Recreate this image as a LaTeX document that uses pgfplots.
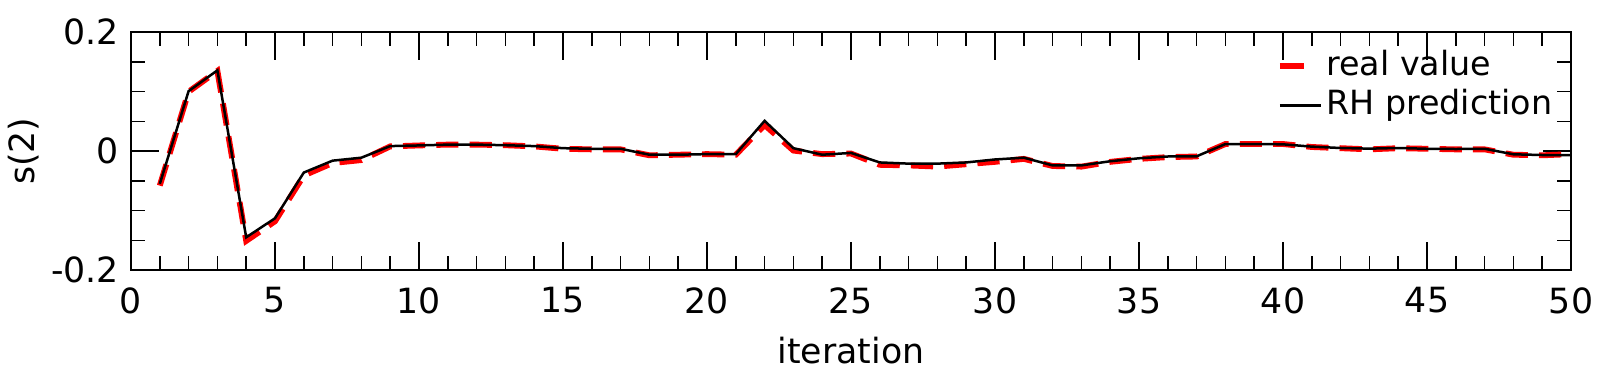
\documentclass[border=0pt]{standalone}
\usepackage{pgfplots}
\pgfplotsset{compat=1.18}
\usetikzlibrary{calc}
\usepackage{fontspec}
\setmainfont{DejaVu Sans}
\pgfplotstableread{
x real pred
1 -0.058 -0.055
2 0.100 0.101
3 0.135 0.136
4 -0.151 -0.145
5 -0.118 -0.113
6 -0.041 -0.036
7 -0.020 -0.016
8 -0.015 -0.011
9 0.008 0.0085
10 0.0096 0.0096
11 0.011 0.011
12 0.011 0.011
13 0.010 0.010
14 0.008 0.0085
15 0.004 0.005
16 0.003 0.004
17 0.003 0.004
18 -0.007 -0.006
19 -0.006 -0.006
20 -0.005 -0.005
21 -0.006 -0.005
22 0.044 0.051
23 0.001 0.005
24 -0.005 -0.006
25 -0.004 -0.003
26 -0.023 -0.019
27 -0.024 -0.021
28 -0.026 -0.021
29 -0.022 -0.019
30 -0.018 -0.014
31 -0.013 -0.011
32 -0.025 -0.024
33 -0.026 -0.024
34 -0.018 -0.017
35 -0.013 -0.012
36 -0.010 -0.009
37 -0.009 -0.0087
38 0.012 0.012
39 0.012 0.012
40 0.012 0.0115
41 0.007 0.0076
42 0.005 0.0053
43 0.003 0.0042
44 0.005 0.0053
45 0.004 0.004
46 0.003 0.0036
47 0.003 0.004
48 -0.006 -0.0053
49 -0.007 -0.0065
50 -0.005 -0.0065
}\datatable
\begin{document}
\begin{tikzpicture}
\begin{axis}[
  name=ax,
  scale only axis,
  width=518.4pt, height=85.57pt,
  xmin=0, xmax=50, ymin=-0.2, ymax=0.2,
  xtick={0,5,...,50},
  minor x tick num=4,
  ytick={-0.2,0,0.2},
  yticklabels={-0.2,0,0.2},
  minor y tick num=3,
  tick align=inside,
  major tick length=10pt,
  minor tick length=5pt,
  tick style={black, line width=0.55pt},
  axis line style={black, line width=0.6pt},
  font=\fontsize{12.5}{15}\selectfont,
  /pgf/number format/assume math mode=true,
  xticklabel style={yshift=-2.8pt},
  yticklabel style={xshift=-0.8pt},
  xlabel={iteration},
  ylabel={s(2)},
  every axis x label/.style={at={(axis description cs:0.5,0)}, anchor=base, yshift=-33.6pt},
  every axis y label/.style={at={(axis description cs:0,0.5)}, xshift=-38.8pt, rotate=90, anchor=center},
  legend cell align=left,
  legend style={draw=none, fill=none, inner sep=0pt, at={(axis description cs:1,1)}, anchor=north east, xshift=-5pt, yshift=-5pt, row sep=0pt, column sep=0pt,
    font=\fontsize{12}{14.5}\selectfont,
    nodes={text height=9.2pt, text depth=2.9pt, inner ysep=1pt, inner xsep=1.5pt}},
]
\addplot[red, line width=2.1pt, dash pattern=on 8pt off 4pt,
  legend image code/.code={\draw[red, solid, line width=2.1pt] (0pt,0pt) -- (8.6pt,0pt); \path[draw=none] (0pt,0pt) -- (14.8pt,0pt);}]
  table[x=x, y=real] {\datatable};
\addlegendentry{real value}
\addplot[black, line width=0.9pt,
  legend image code/.code={\draw[black, solid, line width=0.9pt] (0pt,0pt) -- (14.8pt,0pt);}]
  table[x=x, y=pred] {\datatable};
\addlegendentry{RH prediction}
\end{axis}
\pgfresetboundingbox
\path[use as bounding box] ($(ax.south west)+(-47.16pt,-36.36pt)$) rectangle ($(ax.north east)+(19.08pt,11.63pt)$);
\end{tikzpicture}
\end{document}
